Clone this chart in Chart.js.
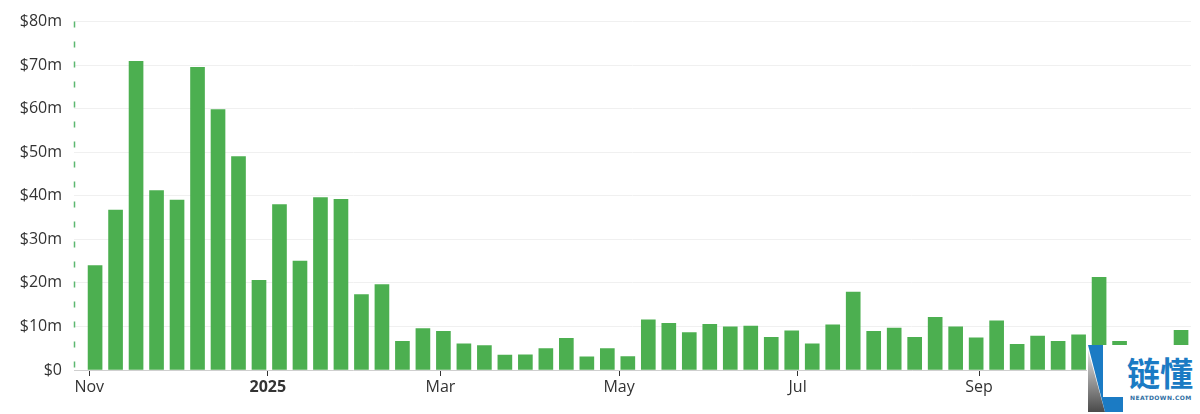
<!DOCTYPE html>
<html>
<head>
<meta charset="utf-8">
<script src="https://cdn.jsdelivr.net/npm/chart.js@4.4.1/dist/chart.umd.min.js"></script>
<style>
  body { margin:0; background:#fff; }
  #wrap { position:relative; width:1200px; height:414px; }
  #mark { position:absolute; left:1087px; top:345px; width:113px; height:69px; background:#fff; overflow:hidden; }
  #mark .cn { position:absolute; left:40px; top:7px; font:bold 33px "Noto Sans CJK SC"; color:#1b7bc4; line-height:40px; }
  #mark .en { position:absolute; left:43px; top:49px; font:bold 6px "DejaVu Sans"; letter-spacing:0.4px; color:#2f6fa3; white-space:nowrap; }
</style>
</head>
<body>
<div id="wrap">
  <canvas id="chart" width="1200" height="414"></canvas>
  <div id="mark">
    <svg width="40" height="69" style="position:absolute;left:0;top:0">
      <defs>
        <linearGradient id="g" x1="0" y1="0" x2="0" y2="1">
          <stop offset="0" stop-color="#e6e6e6"/>
          <stop offset="1" stop-color="#4a4a4a"/>
        </linearGradient>
      </defs>
      <polygon points="1,5 1,67 18,67" fill="url(#g)"/>
      <polygon points="1,0 16,0 16,52 36,52 36,67 18,67" fill="#1b7bc4"/>
    </svg>
    <div class="cn">链懂</div>
    <div class="en">NEATDOWN.COM</div>
  </div>
</div>
<script>
// weekly totals, $m
const weeks = [
  '2024-11-03','2024-11-10','2024-11-17','2024-11-24','2024-12-01','2024-12-08','2024-12-15','2024-12-22','2024-12-29',
  '2025-01-05','2025-01-12','2025-01-19','2025-01-26','2025-02-02','2025-02-09','2025-02-16','2025-02-23',
  '2025-03-02','2025-03-09','2025-03-16','2025-03-23','2025-03-30','2025-04-06','2025-04-13','2025-04-20','2025-04-27',
  '2025-05-04','2025-05-11','2025-05-18','2025-05-25','2025-06-01','2025-06-08','2025-06-15','2025-06-22','2025-06-29',
  '2025-07-06','2025-07-13','2025-07-20','2025-07-27','2025-08-03','2025-08-10','2025-08-17','2025-08-24','2025-08-31',
  '2025-09-07','2025-09-14','2025-09-21','2025-09-28','2025-10-05','2025-10-12','2025-10-19','2025-10-26',
  '2025-11-02','2025-11-09'
];
const values = [
  24.0, 36.7, 70.9, 41.2, 39.0, 69.5, 59.8, 49.0, 20.6,
  38.0, 25.0, 39.6, 39.2, 17.3, 19.6, 6.6, 9.5,
  8.9, 6.0, 5.6, 3.4, 3.5, 4.9, 7.3, 3.0, 4.9,
  3.1, 11.5, 10.7, 8.6, 10.5, 9.9, 10.1, 7.5, 9.0,
  6.0, 10.4, 17.9, 8.9, 9.6, 7.5, 12.1, 9.9, 7.4,
  11.3, 5.9, 7.8, 6.6, 8.1, 21.3, 6.6, 4.5, 5.0,
  9.1
];
const monthStarts = ['2024-11-01','2025-01-01','2025-03-01','2025-05-01','2025-07-01','2025-09-01','2025-11-01'];
const monthLabels = ['Nov','2025','Mar','May','Jul','Sep','Nov'];
const yTicks = [0, 10, 20, 30, 40, 50, 60, 70, 80];

const origin = Date.parse(monthStarts[0]);
const day = s => (Date.parse(s) - origin) / 86400000;
const FONT = '"Open Sans", "Noto Sans", sans-serif';

// dashed green y axis line (v4 border has no dash of its own)
const dashedAxis = {
  id: 'dashedAxis',
  beforeDatasetsDraw(chart) {
    const { ctx, chartArea: a } = chart;
    ctx.save();
    ctx.strokeStyle = '#5cb870';
    ctx.lineWidth = 1.5;
    ctx.setLineDash([6, 14]);
    ctx.beginPath();
    ctx.moveTo(a.left + 0.5, a.top);
    ctx.lineTo(a.left + 0.5, a.bottom);
    ctx.stroke();
    ctx.restore();
  }
};

new Chart(document.getElementById('chart'), {
  type: 'bar',
  data: {
    datasets: [{
      data: weeks.map((w, i) => ({ x: day(w), y: values[i] })),
      backgroundColor: '#4caf50',
      barThickness: 14
    }]
  },
  plugins: [dashedAxis],
  options: {
    responsive: false,
    animation: false,
    layout: { padding: { top: 18, right: 9, left: 0, bottom: 0 } },
    plugins: { legend: { display: false }, tooltip: { enabled: false } },
    scales: {
      x: {
        type: 'linear',
        offset: false,
        min: -5.2,
        max: 376.4,
        grid: { offset: false, drawOnChartArea: false, drawTicks: true, tickLength: 6, color: '#333' },
        border: { color: '#cfcfcf' },
        afterBuildTicks: s => { s.ticks = monthStarts.map(m => ({ value: day(m) })); },
        afterFit: s => { s.height = 44; },
        ticks: {
          autoSkip: false, maxRotation: 0, padding: 2, color: '#333',
          font: c => ({ family: FONT, size: 16, weight: c.index === 1 ? 'bold' : 'normal' }),
          callback: (v, i) => monthLabels[i]
        }
      },
      y: {
        min: 0, max: 80,
        afterBuildTicks: s => { s.ticks = yTicks.map(v => ({ value: v })); },
        afterFit: s => { s.width = 74; },
        grid: { color: '#f0f0f0', drawTicks: false },
        border: { display: false },
        ticks: {
          padding: 12, color: '#333',
          font: { family: FONT, size: 16 },
          callback: v => v === 0 ? '$0' : '$' + v + 'm'
        }
      }
    }
  }
});
</script>
</body>
</html>
